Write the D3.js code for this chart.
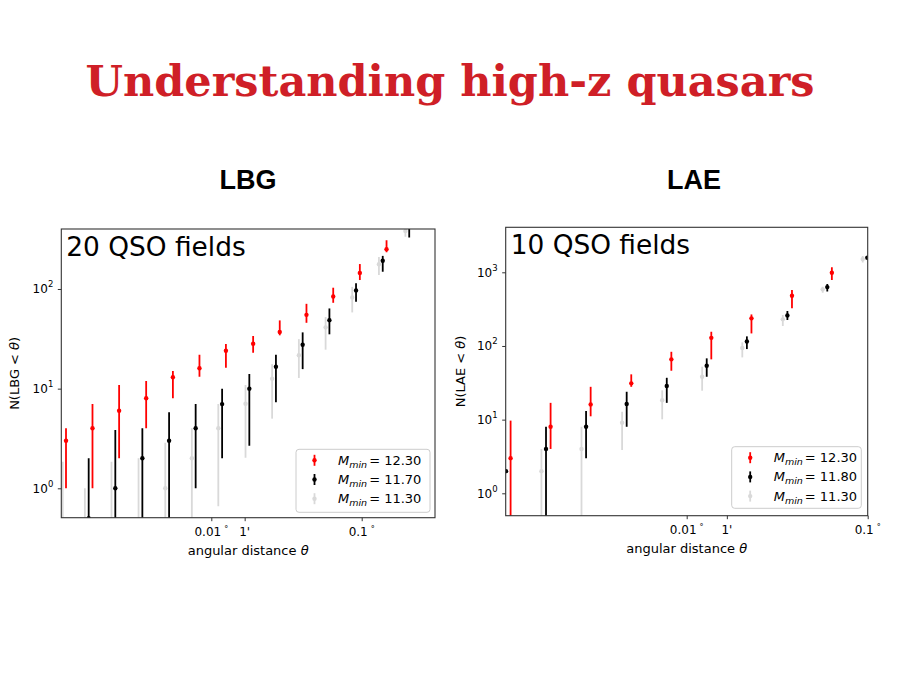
<!DOCTYPE html>
<html><head><meta charset="utf-8">
<script src="https://cdn.jsdelivr.net/npm/d3@7"></script>
<style>body{margin:0;background:#fff} svg{display:block}</style>
</head><body><svg id="c" width="900" height="675"></svg>
<script>
// ---------- data ----------
const lbgTheta   = [0.00102,0.00153,0.00230,0.00348,0.00524,0.00787,0.0118,0.0179,0.0269,0.0405,0.0610,0.0917,0.138,0.207];
const lbgRedN    = [3.0,4.0,6.0,8.0,13.0,16.0,24.0,28.2,37.0,55.0,84.0,145,251,null];
const lbgRedLo   = [1.0,1.0,2.0,4.0,8.0,13.2,16.2,22.9,34.3,45.8,72.7,123,234,null];
const lbgRedHi   = [4.0,7.0,10.9,11.9,15.0,21.9,28.0,33.7,48.4,71,103,178,309,null];
const lbgBlackN  = [null,0.5,1.0,2.0,3.0,4.0,7.0,10,16.6,27.6,48.7,96.8,192,420];
const lbgBlackLo = [null,0.1,0.1,0.1,0.1,1.0,2.0,2.67,7.3,15.7,35.1,74.5,149,329];
const lbgBlackHi = [null,2.0,3.85,4.0,5.8,7.0,10,14,21.9,36.7,63.8,114,215,520];
const lbgGrayN   = [0.3,0.3,0.3,0.3,1.0,2.0,4.0,7.06,12.6,21.6,41.2,82.4,177,381];
const lbgGrayLo  = [0.1,0.1,0.1,0.1,0.1,0.1,0.66,2.03,5.0,12.8,24.6,58.2,138,334];
const lbgGrayHi  = [1.85,1.0,1.85,2.0,2.86,4.0,7.0,10.9,17.6,31.4,52.3,105,210,430];

const laeTheta   = [0.001004,0.00167,0.00278,0.00466,0.00776,0.0129,0.0215,0.0360,0.0598,0.0995];
const laeRedN    = [3.0,8.0,16.1,31.1,65.8,129,237,480,984,null];
const laeRedLo   = [0.1,4.0,11.1,27.9,46.1,65.8,148,324,784,null];
const laeRedHi   = [9.7,16.9,27.9,41.2,83.4,156,268,573,1175,null];
const laeBlackN  = [2.0,4.0,8.0,16.3,28.6,53.9,115,260,630,1573];
const laeBlackLo = [2.0,0.1,3.0,8.0,16.9,38.2,90.8,225,551,1573];
const laeBlackHi = [2.0,8.0,13.1,23.9,37,67.9,135,298,692,1573];
const laeGrayN   = [null,2.0,4.0,9.1,18.3,38.2,93.7,230,587,1510];
const laeGrayLo  = [null,0.1,0.1,3.87,10.1,24.7,70,186,527,1362];
const laeGrayHi  = [null,4.0,8.0,12.8,25,52.3,112,263,636,1660];

const lbgLegend = ["12.30","11.70","11.30"];
const laeLegend = ["12.30","11.80","11.30"];

const xTickValues = [0.01, 0.0166667, 0.1];
const xTickLabels = ["0.01","1'","0.1"];
const xTickDegree = [true,false,true];
const lbgYTicks = [1,10,100];
const laeYTicks = [1,10,100,1000];

const titleText = "Understanding high-z quasars";
const panelTitles = ["LBG","LAE"];

// ---------- drawing ----------
const svg = d3.select("#c");
const FONT = "DejaVu Sans, sans-serif";
const COLORS = ["#ff0000","#000000","#d9d9d9"];
const FACTORS = [1.06, 1.0, 1/1.06];

svg.append("text").attr("x",450).attr("y",96).attr("text-anchor","middle")
  .attr("font-family","DejaVu Serif, serif").attr("font-weight","bold")
  .attr("font-size",43).attr("fill","#cf1f27").text(titleText);

svg.append("text").attr("x",248).attr("y",189).attr("text-anchor","middle")
  .attr("font-family","Liberation Sans, Arial, sans-serif").attr("font-weight","bold")
  .attr("font-size",27).attr("fill","#000").text(panelTitles[0]);
svg.append("text").attr("x",694).attr("y",189).attr("text-anchor","middle")
  .attr("font-family","Liberation Sans, Arial, sans-serif").attr("font-weight","bold")
  .attr("font-size",27).attr("fill","#000").text(panelTitles[1]);

function drawPanel(cfg, id){
  const {left,right,top,bottom} = cfg;
  const x = d3.scaleLog().domain(cfg.xDomain).range([left,right]);
  const y = d3.scaleLog().domain(cfg.yDomain).range([bottom,top]);
  const g = svg.append("g");

  g.append("clipPath").attr("id","clip"+id).append("rect")
    .attr("x",left).attr("y",top).attr("width",right-left).attr("height",bottom-top);

  const data = g.append("g").attr("clip-path",`url(#clip${id})`);
  cfg.series.forEach((s,si)=>{
    const pts = cfg.theta.map((t,i)=>({t, v:s.n[i], lo:s.lo[i], hi:s.hi[i]})).filter(d=>d.v!=null);
    const sg = data.append("g");
    sg.selectAll("line").data(pts).join("line")
      .attr("x1",d=>Math.max(x(d.t*FACTORS[si]), left+1.4))
      .attr("x2",d=>Math.max(x(d.t*FACTORS[si]), left+1.4))
      .attr("y1",d=>y(d.lo)).attr("y2",d=>y(d.hi))
      .attr("stroke",COLORS[si]).attr("stroke-width",1.8);
    sg.selectAll("circle").data(pts).join("circle")
      .attr("cx",d=>x(d.t*FACTORS[si])).attr("cy",d=>y(d.v)).attr("r",2.2)
      .attr("fill",COLORS[si]);
  });

  // frame
  g.append("rect").attr("x",left).attr("y",top).attr("width",right-left).attr("height",bottom-top)
    .attr("fill","none").attr("stroke","#333").attr("stroke-width",1.1);

  // y axis
  const yAxis = g.append("g").attr("transform",`translate(${left},0)`)
    .call(d3.axisLeft(y).tickValues(cfg.yTicks).tickSize(3.5).tickFormat(""));
  yAxis.select(".domain").remove();
  yAxis.selectAll(".tick line").attr("stroke","#333").attr("stroke-width",1);
  cfg.yTicks.forEach(v=>{
    const t = g.append("text").attr("x",left-8).attr("y",y(v)+4.5).attr("text-anchor","end")
      .attr("font-family",FONT).attr("font-size",12).attr("fill","#000");
    t.append("tspan").text("10");
    t.append("tspan").attr("dy",-6).attr("font-size",8.5).text(String(Math.round(Math.log10(v))));
  });

  // x axis
  const xAxis = g.append("g").attr("transform",`translate(0,${bottom})`)
    .call(d3.axisBottom(x).tickValues(xTickValues).tickSize(3.5).tickFormat(""));
  xAxis.select(".domain").remove();
  xAxis.selectAll(".tick line").attr("stroke","#333").attr("stroke-width",1);
  xTickValues.forEach((v,i)=>{
    const t = g.append("text").attr("x",x(v)).attr("y",bottom+18).attr("text-anchor","middle")
      .attr("font-family",FONT).attr("font-size",12).attr("fill","#000");
    t.append("tspan").text(xTickLabels[i]);
    if(xTickDegree[i]) t.append("tspan").attr("dx",3).attr("dy",-4).attr("font-size",8).text("°");
  });

  const xl = g.append("text").attr("x",(left+right)/2).attr("y",bottom+37).attr("text-anchor","middle")
    .attr("font-family",FONT).attr("font-size",13).attr("fill","#000");
  xl.append("tspan").text("angular distance ");
  xl.append("tspan").attr("font-style","italic").text("θ");

  const ylx = cfg.yLabelX, yly = (top+bottom)/2;
  const yl = g.append("text").attr("transform",`translate(${ylx},${yly}) rotate(-90)`)
    .attr("text-anchor","middle").attr("font-family",FONT).attr("font-size",13).attr("fill","#000");
  yl.append("tspan").text(cfg.yLabelPrefix);
  yl.append("tspan").attr("font-style","italic").text("θ");
  yl.append("tspan").text(")");

  g.append("text").attr("x",left+5).attr("y",top+27).attr("font-family",FONT)
    .attr("font-size",26.4).attr("fill","#000").text(cfg.fieldsText);

  // legend
  const L = cfg.legend;
  g.append("rect").attr("x",L.x).attr("y",L.y).attr("width",L.w).attr("height",L.h)
    .attr("rx",3).attr("fill","#fff").attr("fill-opacity",0.8).attr("stroke","#cccccc").attr("stroke-width",1);
  cfg.legendLabels.forEach((lab,i)=>{
    const cy = L.y + 11 + i*19.2;
    const mx = L.x + 18.5;
    g.append("line").attr("x1",mx).attr("x2",mx).attr("y1",cy-5.5).attr("y2",cy+5.5)
      .attr("stroke",COLORS[i]).attr("stroke-width",1.8);
    g.append("circle").attr("cx",mx).attr("cy",cy).attr("r",2.2).attr("fill",COLORS[i]);
    const t = g.append("text").attr("x",L.x+42).attr("y",cy+4.5)
      .attr("font-family",FONT).attr("font-size",13).attr("fill","#000");
    t.append("tspan").attr("font-style","italic").text("M");
    t.append("tspan").attr("font-style","italic").attr("font-size",9.5).attr("dy",3).text("min");
    t.append("tspan").attr("dy",-3).attr("dx",2).text("= " + lab);
  });
}

drawPanel({
  left:61.3, right:435, top:229, bottom:517.7,
  xDomain:[0.001006, 0.3072], yDomain:[0.507, 400],
  theta: lbgTheta,
  series:[
    {n:lbgRedN, lo:lbgRedLo, hi:lbgRedHi},
    {n:lbgBlackN, lo:lbgBlackLo, hi:lbgBlackHi},
    {n:lbgGrayN, lo:lbgGrayLo, hi:lbgGrayHi}
  ],
  yTicks: lbgYTicks, yLabelX:19, yLabelPrefix:"N(LBG < ",
  fieldsText:"20 QSO fields",
  legend:{x:296, y:449.3, w:134, h:63},
  legendLabels: lbgLegend
}, 1);

drawPanel({
  left:505.7, right:867.7, top:227.3, bottom:515.7,
  xDomain:[0.001, 0.1], yDomain:[0.4966, 4083],
  theta: laeTheta,
  series:[
    {n:laeRedN, lo:laeRedLo, hi:laeRedHi},
    {n:laeBlackN, lo:laeBlackLo, hi:laeBlackHi},
    {n:laeGrayN, lo:laeGrayLo, hi:laeGrayHi}
  ],
  yTicks: laeYTicks, yLabelX:465, yLabelPrefix:"N(LAE < ",
  fieldsText:"10 QSO fields",
  legend:{x:731.7, y:446.7, w:129.6, h:61.6},
  legendLabels: laeLegend
}, 2);
</script></body></html>
